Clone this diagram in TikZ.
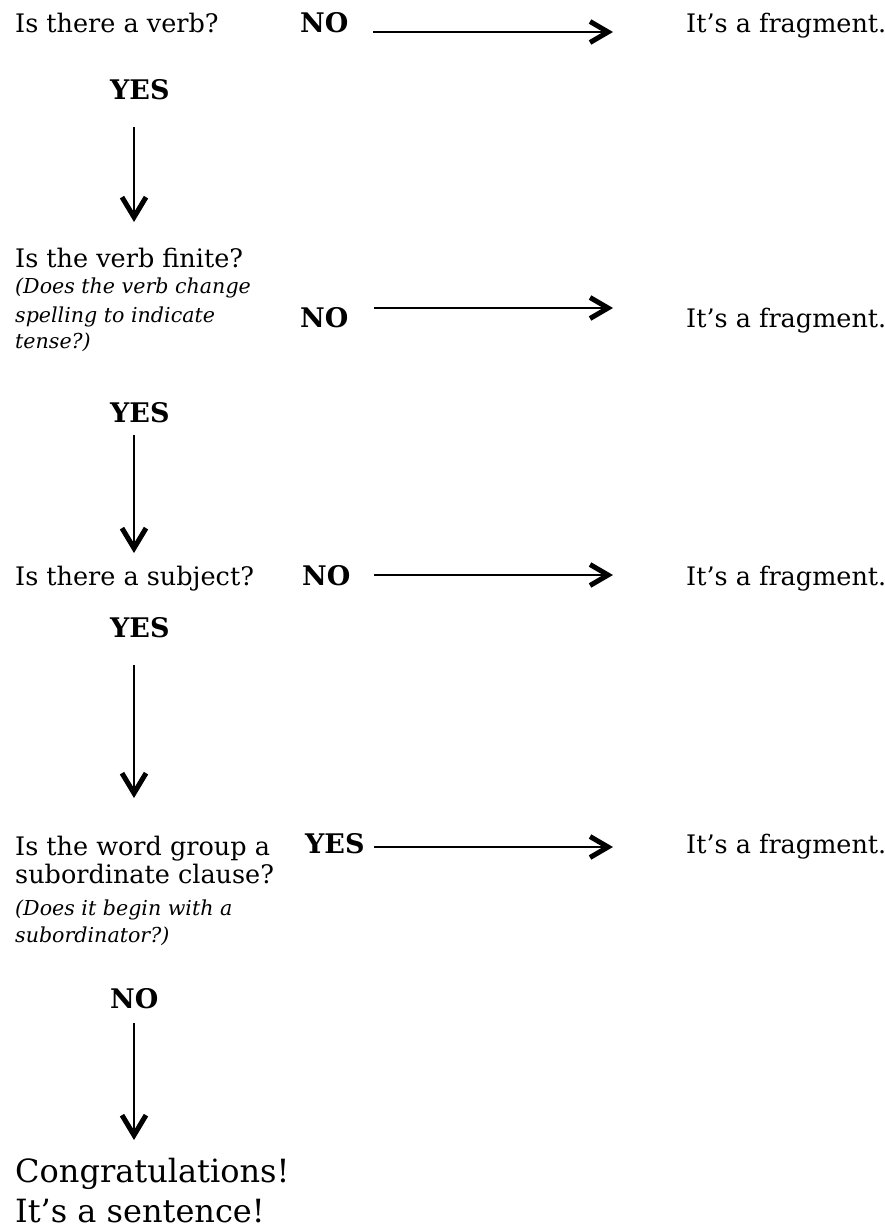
\documentclass[tikz,border=0pt]{standalone}
\usepackage{fontspec}
\setmainfont{DejaVu Serif}
\usetikzlibrary{arrows.meta}
\begin{document}
\begin{tikzpicture}[x=1pt,y=-1pt,
  q/.style={anchor=base west,inner sep=0pt,font=\fontsize{25.5}{30}\selectfont},
  hint/.style={anchor=base west,inner sep=0pt,font=\fontsize{20.6}{27}\selectfont\itshape},
  ans/.style={anchor=base west,inner sep=0pt,font=\fontsize{27}{30}\selectfont\bfseries},
  big/.style={anchor=base west,inner sep=0pt,font=\fontsize{32}{40}\selectfont},
  harr/.style={line width=2.6pt,-{Straight Barb[length=18pt,width=21pt,line width=5pt]}},
  varr/.style={line width=2.2pt,-{Straight Barb[length=20pt,width=24pt,line width=5pt]}}]
\useasboundingbox (0,0) rectangle (885,1228);
% row 1
\node[q] (q1) at (15,33) {Is there a verb?};
\node[ans] (no1) at (300,33) {NO};
\node[q] (f1) at (686,33) {It’s a fragment.};
\coordinate (a1s) at (373,32);
\coordinate (a1e) at (613,32);
\draw[harr] (a1s) -- (a1e);
\node[ans] (y1) at (110,100) {YES};
\coordinate (v1s) at (134,127);
\coordinate (v1e) at (134,222);
\draw[varr] (v1s) -- (v1e);
% row 2
\node[q] (q2) at (15,267) {Is the verb finite?};
\node[hint] (h2a) at (15,293) {(Does the verb change};
\node[hint] (h2b) at (15,322) {spelling to indicate};
\node[hint] (h2c) at (15,348) {tense?)};
\node[ans] (no2) at (300,327) {NO};
\node[q] (f2) at (686,327) {It’s a fragment.};
\coordinate (a2s) at (374,308);
\coordinate (a2e) at (613,308);
\draw[harr] (a2s) -- (a2e);
\node[ans] (y2) at (110,422) {YES};
\coordinate (v2s) at (134,435);
\coordinate (v2e) at (134,553);
\draw[varr] (v2s) -- (v2e);
% row 3
\node[q] (q3) at (15,585) {Is there a subject?};
\node[ans] (no3) at (302,585) {NO};
\node[q] (f3) at (686,585) {It’s a fragment.};
\coordinate (a3s) at (374,575);
\coordinate (a3e) at (613,575);
\draw[harr] (a3s) -- (a3e);
\node[ans] (y3) at (110,637) {YES};
\coordinate (v3s) at (134,665);
\coordinate (v3e) at (134,798);
\draw[varr] (v3s) -- (v3e);
% row 4
\node[q] (q4a) at (15,855) {Is the word group a};
\node[q] (q4b) at (15,883) {subordinate clause?};
\node[hint] (h4a) at (15,915) {(Does it begin with a};
\node[hint] (h4b) at (15,942) {subordinator?)};
\node[ans] (yes4) at (305,853) {YES};
\node[q] (f4) at (686,853) {It’s a fragment.};
\coordinate (a4s) at (374,847);
\coordinate (a4e) at (613,847);
\draw[harr] (a4s) -- (a4e);
\node[ans] (n4) at (110,1008) {NO};
\coordinate (v4s) at (134,1023);
\coordinate (v4e) at (134,1140);
\draw[varr] (v4s) -- (v4e);
% conclusion
\node[big] (c1) at (15,1182) {Congratulations!};
\node[big] (c2) at (15,1222) {It’s a sentence!};
\end{tikzpicture}
\end{document}
